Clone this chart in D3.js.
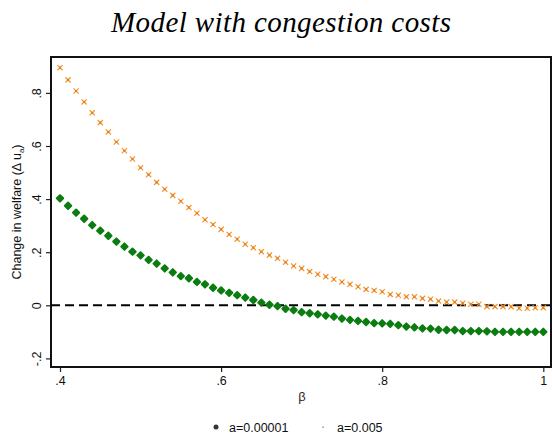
<!DOCTYPE html>
<html>
<head>
<meta charset="utf-8">
<script src="https://cdn.jsdelivr.net/npm/d3@7"></script>
<style>
  body { margin: 0; background: #fff; }
  text { font-family: "Liberation Sans", Arial, sans-serif; }
</style>
</head>
<body>
<div id="painting"></div>
<script>
// beta grid .40 .. 1.00 by .01
var betas = d3.range(61).map(function(i) { return +(0.4 + i * 0.01).toFixed(2); });

// a=0.00001 (green diamonds)
var welfareLow = [
  0.403, 0.375, 0.349, 0.326, 0.302, 0.281, 0.262, 0.240, 0.221, 0.202,
  0.188, 0.171, 0.157, 0.139, 0.124, 0.110, 0.102, 0.088, 0.079, 0.066,
  0.056, 0.047, 0.038, 0.029, 0.020, 0.010, 0.002, -0.003, -0.013, -0.018,
  -0.026, -0.030, -0.034, -0.039, -0.043, -0.050, -0.055, -0.059, -0.063, -0.067,
  -0.068, -0.070, -0.075, -0.080, -0.083, -0.087, -0.088, -0.092, -0.093, -0.093,
  -0.097, -0.097, -0.097, -0.098, -0.100, -0.100, -0.100, -0.100, -0.100, -0.100,
  -0.100
];

// a=0.005 (orange crosses)
var welfareHigh = [
  0.895, 0.849, 0.807, 0.766, 0.725, 0.688, 0.653, 0.615, 0.582, 0.551,
  0.518, 0.492, 0.463, 0.437, 0.414, 0.392, 0.368, 0.347, 0.322, 0.304,
  0.286, 0.267, 0.249, 0.230, 0.217, 0.202, 0.189, 0.177, 0.162, 0.148,
  0.139, 0.127, 0.117, 0.108, 0.098, 0.088, 0.079, 0.070, 0.060, 0.056,
  0.051, 0.041, 0.038, 0.032, 0.032, 0.026, 0.023, 0.016, 0.012, 0.012,
  0.008, 0.004, 0.004, -0.005, -0.005, -0.005, -0.005, -0.011, -0.011, -0.009,
  -0.009
];

var xTicks = [0.4, 0.6, 0.8, 1];
var xTickLabels = [".4", ".6", ".8", "1"];
var yTicks = [-0.2, 0, 0.2, 0.4, 0.6, 0.8];
var yTickLabels = ["-.2", "0", ".2", ".4", ".6", ".8"];
var legendLabels = ["a=0.00001", "a=0.005"];

var W = 552, H = 434;
var frame = {left: 51, right: 551, top: 57, bottom: 367};

var xScale = d3.scaleLinear().domain([0.4, 1]).range([60, 543.3]);
var yScale = d3.scaleLinear().domain([-0.2, 0.8]).range([358.4, 92.9]);

var green = "#0b7d10";
var orange = "#f3952c";

var svg = d3.select("#painting")
  .append("svg")
  .attr("width", W)
  .attr("height", H);

svg.append("rect").attr("width", W).attr("height", H).attr("fill", "#fff");

// title
svg.append("text")
  .attr("x", 281)
  .attr("y", 32)
  .attr("text-anchor", "middle")
  .attr("textLength", 340)
  .attr("lengthAdjust", "spacing")
  .style("font-family", "'Liberation Serif', serif")
  .style("font-style", "italic")
  .style("font-size", "29px")
  .attr("fill", "#000")
  .text("Model with congestion costs");

// axes
var xAxis = d3.axisBottom(xScale)
  .tickValues(xTicks)
  .tickSize(5)
  .tickFormat(function(d, i) { return xTickLabels[i]; });

var yAxis = d3.axisLeft(yScale)
  .tickValues(yTicks)
  .tickSize(5)
  .tickFormat(function(d, i) { return yTickLabels[i]; });

var gx = svg.append("g")
  .attr("class", "axis")
  .attr("transform", "translate(0," + frame.bottom + ")")
  .call(xAxis);
gx.select(".domain").remove();
gx.selectAll("line").attr("stroke", "#222").attr("stroke-width", 1.2);
gx.selectAll("text")
  .attr("y", 9)
  .attr("fill", "#111")
  .style("font-size", "12.5px");

var gy = svg.append("g")
  .attr("class", "axis")
  .attr("transform", "translate(" + frame.left + ",0)")
  .call(yAxis);
gy.select(".domain").remove();
gy.selectAll("line").attr("stroke", "#222").attr("stroke-width", 1.2);
gy.selectAll("text")
  .attr("x", null)
  .attr("dy", null)
  .attr("text-anchor", "middle")
  .attr("fill", "#111")
  .style("font-size", "12.5px")
  .attr("transform", "translate(-10.5,0) rotate(-90)");

// frame
svg.append("rect")
  .attr("x", frame.left)
  .attr("y", frame.top)
  .attr("width", frame.right - frame.left)
  .attr("height", frame.bottom - frame.top)
  .attr("fill", "none")
  .attr("stroke", "#111")
  .attr("stroke-width", 2);

// zero line
svg.append("line")
  .attr("x1", frame.left)
  .attr("x2", frame.right)
  .attr("y1", yScale(0))
  .attr("y2", yScale(0))
  .attr("stroke", "#000")
  .attr("stroke-width", 2)
  .attr("stroke-dasharray", "9,5");

// orange crosses
var crosses = svg.append("g").selectAll("g")
  .data(welfareHigh)
  .enter()
  .append("g")
  .attr("transform", function(d, i) {
    return "translate(" + xScale(betas[i]) + "," + yScale(d) + ")";
  });
crosses.append("path")
  .attr("d", "M-2.6,-2.6L2.6,2.6M-2.6,2.6L2.6,-2.6")
  .attr("stroke", orange)
  .attr("stroke-width", 1.2)
  .attr("fill", "none");
crosses.append("rect")
  .attr("x", -1).attr("y", -1).attr("width", 2).attr("height", 2)
  .attr("fill", "#e8781a");

// green diamonds (rounded, about as wide as tall)
svg.append("g").selectAll("path")
  .data(welfareLow)
  .enter()
  .append("path")
  .attr("d", "M0,-3.2L3.2,0L0,3.2L-3.2,0Z")
  .attr("transform", function(d, i) {
    return "translate(" + xScale(betas[i]) + "," + yScale(d) + ")";
  })
  .attr("fill", green)
  .attr("stroke", green)
  .attr("stroke-width", 2)
  .attr("stroke-linejoin", "round");

// axis titles
svg.append("text")
  .attr("x", 302)
  .attr("y", 401)
  .attr("text-anchor", "middle")
  .attr("fill", "#3a1f1f")
  .style("font-size", "13px")
  .text("\u03b2");

var ylab = svg.append("text")
  .attr("transform", "translate(21,212) rotate(-90)")
  .attr("text-anchor", "middle")
  .attr("fill", "#111")
  .style("font-size", "12.5px");
ylab.append("tspan").text("Change in welfare (\u0394 u");
ylab.append("tspan").attr("dy", 3).style("font-size", "8px").text("a");
ylab.append("tspan").attr("dy", -3).text(")");

// legend
var legend = svg.append("g");
legend.append("circle")
  .attr("cx", 216).attr("cy", 427).attr("r", 2.5)
  .attr("fill", "#2d3a2d");
legend.append("text")
  .attr("x", 229).attr("y", 431.5)
  .attr("fill", "#111")
  .style("font-size", "12.5px")
  .text(legendLabels[0]);
legend.append("rect")
  .attr("x", 322.5).attr("y", 426.5).attr("width", 1.2).attr("height", 1.2)
  .attr("fill", "#8a4a2a");
legend.append("text")
  .attr("x", 337).attr("y", 431.5)
  .attr("fill", "#111")
  .style("font-size", "12.5px")
  .text(legendLabels[1]);
</script>
</body>
</html>
